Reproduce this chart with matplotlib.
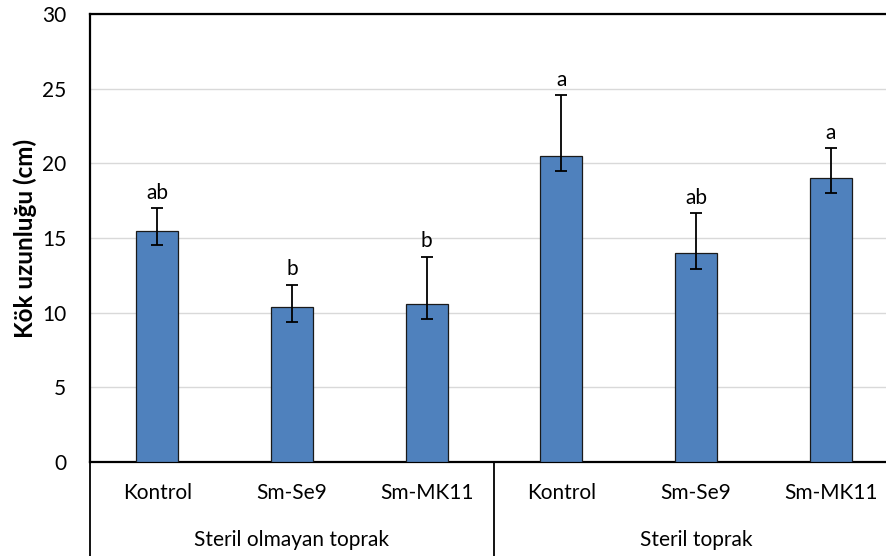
import matplotlib
matplotlib.use("Agg")
import matplotlib.pyplot as plt
from matplotlib.transforms import blended_transform_factory

plt.rcParams['font.family'] = ['Lato', 'DejaVu Sans']

treatments = ["Kontrol", "Sm-Se9", "Sm-MK11", "Kontrol", "Sm-Se9", "Sm-MK11"]
groups = ["Steril olmayan toprak", "Steril toprak"]
values = [15.5, 10.35, 10.6, 20.5, 14.0, 19.0]
err_low = [1.0, 1.0, 1.0, 1.0, 1.05, 1.0]
err_high = [1.5, 1.5, 3.15, 4.05, 2.65, 2.0]
letters = ["ab", "b", "b", "a", "ab", "a"]
yticks = [0, 5, 10, 15, 20, 25, 30]

W, H = 887, 556
fig = plt.figure(figsize=(W / 100, H / 100), dpi=100)
ax = fig.add_axes([90 / W, (H - 462) / H, 808 / W, 448 / H])

x = list(range(len(values)))
ax.bar(x, values, width=0.31, color="#4F81BD", edgecolor="#1a1a1a", linewidth=0.9, zorder=3)
ax.errorbar(x, values, yerr=[err_low, err_high], fmt="none", ecolor="black",
            elinewidth=1.3, capsize=4.2, capthick=1.3, zorder=4)

for xi, v, eh, lab in zip(x, values, err_high, letters):
    ax.annotate(lab, (xi, v + eh), xytext=(0, 4), textcoords="offset points",
                ha="center", va="bottom", fontsize=15)

ax.set_xlim(-0.5, len(values) - 0.5)
ax.set_ylim(0, 30)
ax.set_yticks(yticks)
ax.set_yticklabels([str(t) for t in yticks], fontsize=15)
ax.tick_params(axis="y", length=0, pad=17)
ax.set_xticks([])
ax.yaxis.grid(True, color="#D9D9D9", linewidth=1.0, zorder=0)
ax.set_axisbelow(True)
for s in ["top", "left", "bottom"]:
    ax.spines[s].set_color("black")
    ax.spines[s].set_linewidth(1.6)
ax.spines["right"].set_visible(False)

ax.set_ylabel("Kök uzunluğu (cm)", fontsize=17.5, fontweight="bold", labelpad=4)

trans = blended_transform_factory(ax.transData, ax.transAxes)
for xi, t in zip(x, treatments):
    ax.text(xi, -0.069, t, transform=trans, ha="center", va="center", fontsize=15)
n = len(groups)
per = len(values) // n
for gi, g in enumerate(groups):
    cx = gi * per + (per - 1) / 2
    ax.text(cx, -0.174, g, transform=trans, ha="center", va="center", fontsize=15)
for gi in range(n + 1):
    xb = gi * per - 0.5
    ax.plot([xb, xb], [0, -0.25], transform=trans, color="black", lw=1.3, clip_on=False)

fig.savefig("out.png", dpi=100)
